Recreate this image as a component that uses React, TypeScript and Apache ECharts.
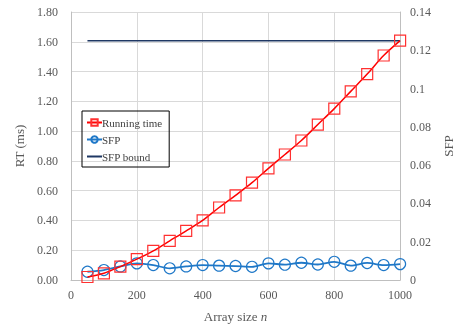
import React, { useEffect, useRef } from "react";
import * as echarts from "echarts";

const sizes = [50, 100, 150, 200, 250, 300, 350, 400, 450, 500, 550, 600, 650, 700, 750, 800, 850, 900, 950, 1000];
const runningTime = [0.02, 0.045, 0.09, 0.14, 0.196, 0.263, 0.33, 0.4, 0.487, 0.569, 0.654, 0.75, 0.843, 0.937, 1.044, 1.151, 1.267, 1.383, 1.508, 1.608];
const sfp = [0.0043, 0.0052, 0.0071, 0.0087, 0.0078, 0.0061, 0.0071, 0.0078, 0.0075, 0.0073, 0.0069, 0.0087, 0.008, 0.009, 0.0081, 0.0095, 0.0075, 0.0089, 0.0078, 0.0083];
const sfpBound = 0.125;
const boundRange = [50, 1000];

const FONT = "Liberation Serif";
const TXT = "#595959";

export default function App() {
  const ref = useRef<HTMLDivElement>(null);
  useEffect(() => {
    if (!ref.current) return;
    const chart = echarts.init(ref.current, undefined, { renderer: "svg" });
    chart.setOption({
      animation: false,
      textStyle: { fontFamily: FONT },
      grid: { left: 71, right: 47, top: 12, bottom: 47 },
      legend: {
        orient: "vertical",
        left: 82,
        top: 111,
        padding: [6, 7, 5, 4],
        borderColor: "#000",
        borderWidth: 1,
        itemWidth: 15,
        itemHeight: 8,
        itemGap: 6,
        textStyle: { fontFamily: FONT, fontSize: 11, color: "#404040", padding: [0, 0, 0, -5] },
        data: [
          { name: "Running time" },
          { name: "SFP" },
          { name: "SFP bound", itemStyle: { color: "rgba(0,0,0,0)", borderColor: "rgba(0,0,0,0)", borderWidth: 0 } },
        ],
      },
      xAxis: {
        type: "value",
        min: 0,
        max: 1000,
        interval: 200,
        name: "Array size {i|n}",
        nameLocation: "middle",
        nameGap: 30,
        nameTextStyle: {
          fontFamily: FONT,
          fontSize: 13,
          color: TXT,
          rich: { i: { fontStyle: "italic", fontFamily: FONT, fontSize: 13, color: TXT } },
        },
        axisLine: { show: true, lineStyle: { color: "#BFBFBF" } },
        axisTick: { show: false },
        axisLabel: { color: TXT, fontFamily: FONT, fontSize: 12, margin: 9, formatter: (v: number) => String(v) },
        splitLine: { show: true, lineStyle: { color: "#D9D9D9" } },
      },
      yAxis: [
        {
          type: "value",
          min: 0,
          max: 1.8,
          interval: 0.2,
          name: "RT (ms)",
          nameLocation: "middle",
          nameGap: 45,
          nameRotate: 90,
          nameTextStyle: { fontFamily: FONT, fontSize: 13, color: TXT },
          axisLine: { show: true, lineStyle: { color: "#BFBFBF" } },
          axisTick: { show: false },
          axisLabel: { color: TXT, fontFamily: FONT, fontSize: 12, margin: 13, formatter: (v: number) => v.toFixed(2) },
          splitLine: { show: true, lineStyle: { color: "#D9D9D9" } },
        },
        {
          type: "value",
          min: 0,
          max: 0.14,
          interval: 0.02,
          name: "SFP",
          nameLocation: "middle",
          nameGap: 38,
          nameRotate: 90,
          nameTextStyle: { fontFamily: FONT, fontSize: 13, color: TXT },
          axisLine: { show: true, lineStyle: { color: "#BFBFBF" } },
          axisTick: { show: false },
          axisLabel: { color: TXT, fontFamily: FONT, fontSize: 12, margin: 10 },
          splitLine: { show: false },
        },
      ],
      series: [
        {
          name: "SFP bound",
          type: "line",
          yAxisIndex: 1,
          data: boundRange.map((x) => [x, sfpBound]),
          symbol: "none",
          lineStyle: { color: "#1F3864", width: 1.5 },
          itemStyle: { color: "#1F3864" },
          z: 1,
        },
        {
          name: "SFP",
          type: "line",
          yAxisIndex: 1,
          data: sizes.map((x, i) => [x, sfp[i]]),
          smooth: 0.3,
          symbol: "circle",
          symbolSize: 11,
          showAllSymbol: true,
          lineStyle: { color: "#1F78C8", width: 1.8 },
          itemStyle: { color: "rgba(255,255,255,0)", borderColor: "#1F78C8", borderWidth: 1.2 },
          z: 2,
        },
        {
          name: "Running time",
          type: "line",
          yAxisIndex: 0,
          data: sizes.map((x, i) => [x, runningTime[i]]),
          smooth: 0.3,
          symbol: "rect",
          symbolSize: 11,
          showAllSymbol: true,
          lineStyle: { color: "#FF0000", width: 1.5 },
          itemStyle: { color: "rgba(255,255,255,0)", borderColor: "#FF3030", borderWidth: 1.2 },
          z: 3,
        },
      ],
    });
    return () => chart.dispose();
  }, []);
  return <div ref={ref} style={{ position: "fixed", left: 0, top: 0, width: 463, height: 328 }} />;
}
